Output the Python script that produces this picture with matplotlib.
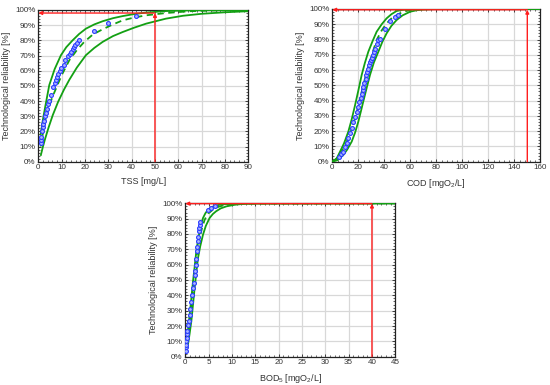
import matplotlib
matplotlib.use("Agg")
import matplotlib.pyplot as plt
from matplotlib.ticker import MultipleLocator, PercentFormatter, AutoMinorLocator

plt.rcParams['font.family'] = ['Liberation Sans', 'DejaVu Sans']
plt.rcParams['mathtext.fontset'] = 'custom'
plt.rcParams['mathtext.rm'] = 'Liberation Sans'
plt.rcParams['mathtext.it'] = 'Liberation Sans:italic'

# ---------------- TSS ----------------
tss_pts_x = [1.0, 1.2, 1.3, 1.6, 1.9, 2.2, 2.4, 2.9, 3.2, 3.6, 4.2, 4.7, 5.3, 6.4, 7.0, 7.6, 8.2, 8.6,
             9.2, 9.8, 10.8, 11.6, 12.6, 13.4, 14.0, 14.7, 15.3, 15.9, 16.6, 17.5, 23.7, 30.0, 42.0]
tss_pts_y = [12, 14, 16, 20, 23, 25, 27, 30, 32, 35, 38, 40, 44, 49.5, 52, 54, 56, 58,
             59.5, 62, 64, 67, 69.5, 71, 72.5, 74, 75.5, 77, 78, 80, 86, 91.3, 96.2]
tss_up_x = [1.0, 2, 3, 4.7, 7, 9.7, 12, 14.7, 17.5, 20.4, 24, 27.6, 32, 36.2, 41, 46.2, 54.7, 65, 90]
tss_up_y = [18, 28, 36.5, 50.5, 61, 70.2, 75.5, 80, 84.2, 87.7, 90.5, 92.6, 94.6, 96, 97.3, 98.3, 99.3, 99.8, 100]
tss_mid_x = [1.0, 2, 3, 4.5, 6, 7.6, 10, 13.3, 16.5, 19.7, 23.5, 27.6, 32, 36.2, 41, 46.2, 54.7, 65, 75, 90]
tss_mid_y = [10, 19, 27, 36, 42.5, 48.3, 57, 66.9, 73.5, 79, 84, 87.3, 90.5, 93.2, 95, 96.5, 98, 99.2, 99.7, 100]
tss_lo_x = [1.1, 2, 3, 4.5, 6.2, 8.5, 11, 13.3, 16.5, 20.4, 24, 27.6, 32, 36.2, 41, 46.2, 54.7, 62, 70, 80, 90]
tss_lo_y = [4.4, 10, 15.5, 23, 30.7, 39.5, 47.5, 54, 62, 70.2, 75, 79, 82.8, 85.5, 88.3, 91, 94.3, 96.2, 97.5, 98.5, 99.2]

# ---------------- COD ----------------
cod_pts_x = [5.5, 6.7, 7.9, 9.5, 11, 12.3, 13.6, 15, 16.2, 17.5, 18.7, 19.8, 20.8, 21.7, 22.6, 23.3, 23.8,
             24.7, 25.6, 26.3, 26.9, 27.6, 28.4, 29.0, 29.7, 30.3, 31, 31.8, 32.8, 34, 35.4, 36.5,
             40.5, 44.4, 48.2, 50.8]
cod_pts_y = [3, 4.8, 6.5, 9.5, 12.5, 15.2, 18.5, 22, 26, 29.3, 32.5, 36, 39, 42, 44.5, 47, 48.8,
             51.5, 54.4, 56.5, 58.7, 61, 63.1, 65, 66.4, 68, 69.6, 72, 74, 77, 79.5, 80.5,
             86.7, 92.1, 95, 96.1]
cod_up_x = [0, 3, 5.9, 9, 12.3, 15, 17.5, 20, 22.6, 25, 27.7, 31, 34.1, 38, 41.8, 45.5, 49.5, 54, 60, 70, 160]
cod_up_y = [0, 1.5, 6.5, 12, 19.6, 28, 37, 46.5, 56.8, 64.5, 72, 79, 85.1, 90, 93.9, 96.6, 98.7, 99.4, 99.8, 100, 100]
cod_mid_x = [0, 3.4, 7, 11.1, 14.5, 17.5, 20, 22.6, 25, 27.7, 31, 34.1, 38, 41.8, 46, 52.1, 57, 62.4, 70, 160]
cod_mid_y = [0, 2.2, 6.5, 13.1, 20.5, 28.4, 36.5, 45.8, 54, 62.2, 71.5, 79.7, 86, 90.6, 94.3, 97.2, 98.7, 99.6, 100, 100]
cod_lo_x = [0, 4, 8.5, 11.5, 14.9, 17.5, 20, 22, 23.8, 26.5, 29, 32, 35.4, 38.5, 41.8, 45.5, 49.5, 54, 59.8,
            65, 70, 80, 160]
cod_lo_y = [0, 1, 4.4, 8, 13.1, 19, 26.2, 33, 39.3, 48.5, 56.8, 65, 72, 78.5, 84.1, 89, 92.8, 95.8, 98.2,
            99.2, 99.6, 100, 100]

# ---------------- BOD5 ----------------
bod_pts_x = [0.07, 0.15, 0.21, 0.25, 0.3, 0.36, 0.45, 0.57, 0.7, 0.93, 1.1, 1.29, 1.45, 1.65, 1.8, 2.0,
             2.1, 2.2, 2.35, 2.5, 2.6, 2.72, 2.82, 2.93, 3.0, 3.07, 3.2, 4.93, 5.57, 6.3]
bod_pts_y = [3.5, 6, 7.8, 10, 12, 14.5, 17, 20.8, 23, 27, 31, 35.9, 40, 44.5, 48, 53.2,
             56, 60, 64, 68.7, 71.5, 75.2, 78, 81.7, 84, 86, 87.5, 95.6, 96.9, 98.2]
bod_up_x = [0.3, 0.6, 0.93, 1.3, 1.65, 2.0, 2.36, 2.7, 3.07, 3.4, 3.79, 4.3, 4.86, 5.6, 6.6, 7.6, 8.8, 11, 45]
bod_up_y = [10, 18, 27.4, 38, 49.1, 58.5, 68.7, 75.5, 81.7, 86, 90.4, 93.5, 95.8, 97.5, 98.6, 99.2, 99.5, 99.9, 100]
bod_mid_x = [0.5, 0.79, 1.15, 1.5, 1.85, 2.2, 2.6, 3.07, 3.6, 4.15, 4.9, 5.9, 7, 8.1, 9.5, 12, 45]
bod_mid_y = [10, 17, 28, 38.5, 50, 60, 69.5, 77.4, 84, 89.3, 93.3, 95.8, 97.6, 98.6, 99.3, 99.8, 100]
bod_lo_x = [0.57, 0.9, 1.29, 1.65, 2.0, 2.36, 2.72, 3.2, 3.79, 4.4, 5.2, 5.9, 6.6, 7.6, 8.8, 10.5, 12, 15, 45]
bod_lo_y = [7.8, 14.5, 23, 34, 44.8, 54.8, 64.3, 72, 79.5, 85.3, 90.4, 93, 94.8, 96.7, 98, 99, 99.5, 99.9, 100]

# limits and reliability read at the limit
limits = [50, 150, 40]
reliab = [98.0, 99.5, 99.8]
xmax = [90, 160, 45]
xstep = [10, 20, 5]
xlabels = ['TSS [mg/L]', r'COD [mgO$_2$/L]', r'BOD$_5$ [mgO$_2$/L]']
ylabel = 'Technological reliability [%]'

GREEN = '#13a013'
BLUE = '#2a3cff'
RED = '#ff1e1e'

fig = plt.figure(figsize=(5.5, 3.85), dpi=100)
W, H = 550, 385
boxes = [(38.3, 10, 248.3, 161.7), (332.3, 9, 540.3, 161.7), (185.3, 203.3, 395.3, 356.7)]
data = [
    (tss_pts_x, tss_pts_y, tss_up_x, tss_up_y, tss_mid_x, tss_mid_y, tss_lo_x, tss_lo_y),
    (cod_pts_x, cod_pts_y, cod_up_x, cod_up_y, cod_mid_x, cod_mid_y, cod_lo_x, cod_lo_y),
    (bod_pts_x, bod_pts_y, bod_up_x, bod_up_y, bod_mid_x, bod_mid_y, bod_lo_x, bod_lo_y),
]

for i, (l, t, r, b) in enumerate(boxes):
    ax = fig.add_axes([l / W, 1 - b / H, (r - l) / W, (b - t) / H])
    px, py, ux, uy, mx, my, lx, ly = data[i]
    ax.plot(ux, uy, color=GREEN, lw=1.3, zorder=3)
    ax.plot(lx, ly, color=GREEN, lw=1.3, zorder=3)
    ax.plot(mx, my, color=GREEN, lw=1.3, ls=(0, (3.5, 2.5)), zorder=3)
    ax.plot(px, py, ls='none', marker='o', ms=2.8, mfc='#aab4ff', mec=BLUE, mew=0.8, zorder=4)
    # red arrows
    ax.annotate('', xy=(limits[i], reliab[i]), xytext=(limits[i], 0),
                arrowprops=dict(arrowstyle='-|>', color=RED, lw=1.0, mutation_scale=5,
                                shrinkA=0, shrinkB=0), zorder=5)
    ax.annotate('', xy=(0, reliab[i]), xytext=(limits[i], reliab[i]),
                arrowprops=dict(arrowstyle='-|>', color=RED, lw=1.0, mutation_scale=5,
                                shrinkA=0, shrinkB=0), zorder=5)
    ax.set_xlim(0, xmax[i])
    ax.set_ylim(0, 100)
    ax.xaxis.set_major_locator(MultipleLocator(xstep[i]))
    ax.yaxis.set_major_locator(MultipleLocator(10))
    ax.xaxis.set_minor_locator(AutoMinorLocator(5))
    ax.yaxis.set_minor_locator(AutoMinorLocator(5))
    ax.yaxis.set_major_formatter(PercentFormatter(decimals=0))
    ax.grid(True, which='major', color='#d8d8d8', lw=0.9, zorder=0)
    ax.set_axisbelow(True)
    ax.tick_params(which='both', direction='in', top=True, right=True, labelsize=5.8,
                   colors='#222222', labelcolor='#333333', pad=2)
    ax.tick_params(which='major', length=2.5, width=0.6)
    ax.tick_params(which='minor', length=1.2, width=0.5)
    for s in ax.spines.values():
        s.set_color('#222222')
        s.set_linewidth(0.9)
    ax.set_xlabel(xlabels[i], fontsize=6.5, color='#333333', labelpad=4)
    ax.set_ylabel(ylabel, fontsize=6.5, color='#333333', labelpad=3)

fig.savefig('out.png', dpi=100)
